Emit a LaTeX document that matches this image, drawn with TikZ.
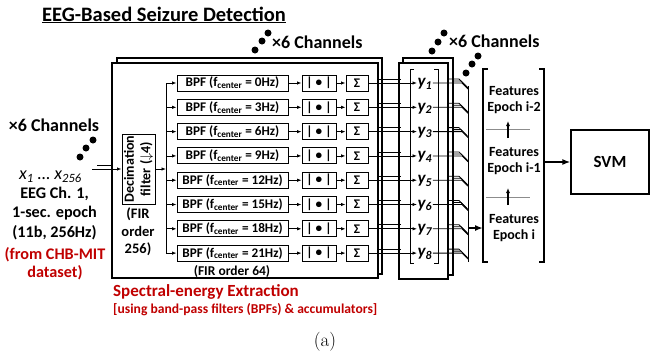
\documentclass[tikz,border=0pt]{standalone}
\usepackage{fontspec}
\newfontfamily\carl{Carlito}
\usetikzlibrary{arrows.meta}
\definecolor{myred}{HTML}{C00000}
\newcommand\myfs[2]{\fontsize{#1}{#2}\selectfont}
\begin{document}
\begin{tikzpicture}[x=1pt,y=-1pt,
  every node/.style={font=\carl\bfseries},
  bigbox/.style={draw, line width=1.8pt, fill=white, inner sep=0pt},
  blk/.style={draw, line width=1pt, fill=white, inner sep=0pt, minimum height=16pt, font=\carl\bfseries\myfs{13.2}{14}},
  conn/.style={line width=0.8pt},
  arr/.style={conn, -{Latex[length=4.5pt,width=3.5pt]}},
  bigarr/.style={line width=1.6pt, -{Latex[length=8pt,width=6pt]}},
  dot/.style={circle, fill=black, inner sep=0pt, minimum size=7pt},
  chan/.style={font=\carl\bfseries\myfs{18}{20}, inner sep=0pt},
  lefttxt/.style={font=\carl\bfseries\myfs{16.2}{18}, inner sep=0pt},
  feat/.style={font=\carl\bfseries\myfs{14}{16.5}, align=center, inner sep=0pt},
  brk/.style={line width=1.8pt},
  ybrk/.style={line width=0.8pt}
]
\useasboundingbox (0,0) rectangle (653,360);

% title
\node[inner sep=0pt, font=\carl\bfseries\myfs{20.5}{22}] (title) at (164,15) {\underline{EEG-Based Seizure Detection}};

% stacked boxes
\node[bigbox, minimum width=265pt, minimum height=216pt] (specB) at (249.5,166) {};
\node[bigbox, minimum width=266pt, minimum height=215pt] (specF) at (245,170.5) {};
\node[bigbox, minimum width=50pt, minimum height=217pt] (yB) at (428,166.5) {};
\node[bigbox, minimum width=49pt, minimum height=216pt] (yF) at (423.5,171) {};

% inner bracket of y box
\draw[ybrk] (414,69) -- (410,69) -- (410,263) -- (414,263);
\draw[ybrk] (434,69) -- (438,69) -- (438,263) -- (434,263);

% decimation
\node[blk, minimum width=33pt, minimum height=70pt] (dec) at (138.5,169) {};
\node[rotate=90, align=center, inner sep=0pt, font=\carl\bfseries\myfs{14}{16.5}] (dect) at (dec.center) {Decimation\\filter ($\downarrow$4)};
\node[font=\carl\bfseries\myfs{14.5}{17.5}, align=center, inner sep=0pt] (fir256) at (138,232) {(FIR\\order\\256)};

% input
\coordinate (inA) at (97,165);
\coordinate (inAe) at (112,165);
\coordinate (inB) at (92,169);
\draw[conn] (inA) -- (inAe);
\draw[arr] (inB) -- (dec);
\coordinate (busIn) at (166,169);
\draw[arr] (dec) -- (busIn);
\coordinate (busT) at (166,83);
\coordinate (busBt) at (166,253.1);
\draw[conn] (busT) -- (busBt);

% output bus
\coordinate (obT) at (468,86);
\coordinate (obB) at (468,262);
\draw[line width=1pt] (obT) -- (obB);

% rows
\foreach \fc [count=\i] in {0,3,6,9,12,15,18,21} {
  \pgfmathsetmacro\yy{83+(\i-1)*24.3}
  \coordinate (bus\i) at (166,\yy);
  \node[blk, minimum width=111pt] (bpf\i) at (232.5,\yy) {BPF (f\textsubscript{center} = \fc Hz)};
  \node[blk, minimum width=34pt] (abs\i) at (319,\yy) {| • |};
  \node[blk, minimum width=22pt] (sig\i) at (357,\yy) {Σ};
  \draw[arr] (bus\i) -- (bpf\i);
  \draw[arr] (bpf\i) -- (abs\i);
  \draw[arr] (abs\i) -- (sig\i);
  \node[anchor=west, inner sep=0.5pt, font=\carl\bfseries\itshape\myfs{17}{17}] (y\i) at (417,\yy+1) {y\textsubscript{\i}};
  \draw[arr] (sig\i.east) -- (y\i.west |- sig\i.east);
  \coordinate (ua\i) at (378,\yy-4);
  \coordinate (ub\i) at (401,\yy-4);
  \draw[conn] (ua\i) -- (ub\i);
  \coordinate (oa\i) at (448,\yy-4);
  \coordinate (ob\i) at (459,\yy-4);
  \coordinate (oc\i) at (467,\yy+4);
  \draw[conn] (oa\i) -- (ob\i) -- (oc\i);
  \coordinate (pa\i) at (453,\yy-2);
  \coordinate (pb\i) at (461,\yy-2);
  \coordinate (pc\i) at (468,\yy+5);
  \draw[conn] (pa\i) -- (pb\i) -- (pc\i);
  \coordinate (qb\i) at (462,\yy);
  \coordinate (qc\i) at (468,\yy+6);
  \draw[conn] (y\i.east |- qb\i) -- (qb\i) -- (qc\i);
}

% features
\draw[brk] (488,69) -- (483,69) -- (483,262) -- (488,262);
\draw[brk] (539,69) -- (544,69) -- (544,262) -- (539,262);
\node[feat] (fe1) at (514,100) {Features\\Epoch i-2};
\node[feat] (fe2) at (514,161) {Features\\Epoch i-1};
\node[feat] (fe3) at (514,228) {Features\\Epoch i};
\coordinate (s1a) at (486,129); \coordinate (s1b) at (530,129);
\coordinate (s2a) at (486,197); \coordinate (s2b) at (530,197);
\draw[black!45, line width=0.7pt] (s1a) -- (s1b);
\draw[black!45, line width=0.7pt] (s2a) -- (s2b);
\coordinate (u1a) at (508,138); \coordinate (u1b) at (508,121);
\coordinate (u2a) at (508,205); \coordinate (u2b) at (508,188);
\draw[line width=1.2pt, -{Latex[length=5pt,width=4pt]}] (u1a) -- (u1b);
\draw[line width=1.2pt, -{Latex[length=5pt,width=4pt]}] (u2a) -- (u2b);

\coordinate (busO) at (468,228);
\coordinate (fin) at (483,228);
\draw[bigarr] (busO) -- (fin);
\coordinate (fout) at (544,162);
\node[draw, line width=1.2pt, minimum width=78pt, minimum height=64pt, font=\carl\bfseries\myfs{17}{19}] (svm) at (610,162) {SVM};
\draw[bigarr] (fout) -- (svm);

% channels labels and dots
\node[chan, anchor=west] (ch1) at (272,42) {×6 Channels};
\node[dot] (d11) at (255,50) {};
\node[dot] (d12) at (262,41) {};
\node[dot] (d13) at (268,33) {};
\node[chan, anchor=west] (ch2) at (449,41) {×6 Channels};
\node[dot] (d21) at (432,51) {};
\node[dot] (d22) at (438,42) {};
\node[dot] (d23) at (444,33) {};
\node[dot] (d31) at (466,73) {};
\node[dot] (d32) at (472,64) {};
\node[dot] (d33) at (478,56) {};
\node[chan] (ch3) at (54,125) {×6 Channels};
\node[dot] (d41) at (80,157) {};
\node[dot] (d42) at (86,148) {};
\node[dot] (d43) at (93,140) {};

% left text
\node[inner sep=0pt, font=\carl\itshape\myfs{18}{20}] (xs) at (50.5,177) {x\textsubscript{1} … x\textsubscript{256}};
\node[lefttxt] (l1) at (54.5,194) {EEG Ch. 1,};
\node[lefttxt] (l2) at (54.5,213) {1-sec. epoch};
\node[lefttxt] (l3) at (54.5,233) {(11b, 256Hz)};
\node[lefttxt, text=myred] (l4) at (55,255) {(from CHB-MIT};
\node[lefttxt, text=myred] (l5) at (55,273) {dataset)};

% bottom labels
\node[inner sep=0pt, font=\carl\bfseries\myfs{13.5}{15}] (fir64) at (232,272) {(FIR order 64)};
\node[anchor=west, inner sep=0pt, text=myred, font=\carl\bfseries\myfs{17}{19}] (spec) at (113,292) {Spectral-energy Extraction};
\node[anchor=west, inner sep=0pt, text=myred, font=\carl\bfseries\myfs{13.6}{15}] (specsub) at (113,310) {[using band-pass filters (BPFs) \& accumulators]};
\node[inner sep=0pt, font=\normalfont\myfs{19}{21}] (cap) at (325,342) {(a)};
\end{tikzpicture}
\end{document}
